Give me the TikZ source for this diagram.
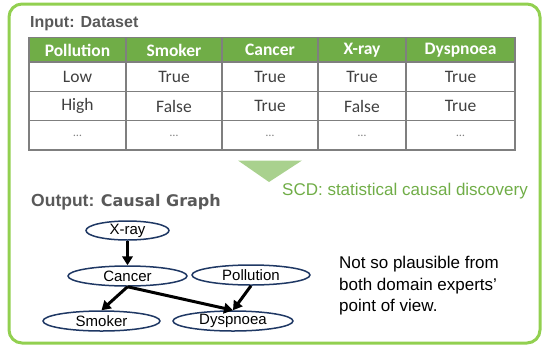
\documentclass[tikz,border=0pt]{standalone}
\usepackage{fontspec}
\setmainfont{Liberation Sans}
\newfontfamily\calibri{Carlito}
\newfontfamily\widesans{DejaVu Sans}
\usetikzlibrary{shapes.geometric,arrows.meta}
\definecolor{outergreen}{HTML}{92D050}
\definecolor{headgreen}{HTML}{70AD47}
\definecolor{trigreen}{HTML}{A9D18E}
\definecolor{scdgreen}{HTML}{70AD47}
\definecolor{gridgray}{HTML}{7F7F7F}
\definecolor{titlegray}{HTML}{595959}
\definecolor{cellgray}{HTML}{404040}
\definecolor{navy}{HTML}{1F3864}
\tikzset{
  frame/.style={draw=outergreen, line width=3pt, rounded corners=13pt},
  title/.style={anchor=base west, inner sep=0pt, text=titlegray, font=\bfseries\fontsize{16}{18}\selectfont},
  headcell/.style={inner sep=0pt, text=white, font=\calibri\bfseries\fontsize{17.5}{20}\selectfont},
  bodycell/.style={inner sep=0pt, text=cellgray, font=\calibri\fontsize{17.5}{20}\selectfont},
  dotcell/.style={inner sep=0pt, text=gridgray, font=\calibri\fontsize{12}{14}\selectfont},
  grid/.style={draw=gridgray, line width=1.3pt},
  var/.style={ellipse, draw=navy, line width=1.5pt, inner sep=0pt, minimum height=20pt, font=\fontsize{15}{17}\selectfont},
  causal/.style={line width=3pt, -{Triangle[length=9pt,width=10.5pt]}},
}
\begin{document}
\begin{tikzpicture}[x=1pt,y=-1pt]
\useasboundingbox (0,0) rectangle (544,349);
\draw[frame] (9,4) rectangle (540,343);

\node[title] (intitle) at (30,27) {Input: Dataset};

% table
\fill[headgreen] (29,37.5) rectangle (515,62);
\foreach \y in {62,91.5,120.5} \draw[grid] (29,\y) -- (515,\y);
\foreach \x in {126,222,318,406} \draw[grid] (\x,37.5) -- (\x,150);
\draw[grid] (29,37.5) rectangle (515,150);

\node[headcell] (h1) at (77.5,50) {Pollution};
\node[headcell] (h2) at (174,50) {Smoker};
\node[headcell] (h3) at (270,50) {Cancer};
\node[headcell] (h4) at (362,50) {X-ray};
\node[headcell] (h5) at (460.5,50) {Dyspnoea};

\node[bodycell] (a1) at (77.5,77) {Low};
\node[bodycell] (a2) at (174,77) {True};
\node[bodycell] (a3) at (270,77) {True};
\node[bodycell] (a4) at (362,77) {True};
\node[bodycell] (a5) at (460.5,77) {True};

\node[bodycell] (b1) at (77.5,106) {High};
\node[bodycell] (b2) at (174,106) {False};
\node[bodycell] (b3) at (270,106) {True};
\node[bodycell] (b4) at (362,106) {False};
\node[bodycell] (b5) at (460.5,106) {True};

\node[dotcell] (c1) at (77.5,135.5) {…};
\node[dotcell] (c2) at (174,135.5) {…};
\node[dotcell] (c3) at (270,135.5) {…};
\node[dotcell] (c4) at (362,135.5) {…};
\node[dotcell] (c5) at (460.5,135.5) {…};

% arrow triangle
\fill[trigreen] (238,160.5) -- (302,160.5) -- (269,182) -- cycle;
\node[anchor=base west, inner sep=0pt, text=scdgreen, font=\fontsize{17}{19}\selectfont] (scd) at (282,195) {SCD: statistical causal discovery};

\node[title, font=\bfseries\fontsize{17.5}{19}\selectfont] (outtitle) at (31,206.5) {Output: {\widesans\bfseries\fontsize{16}{18}\selectfont Causal Graph}};

% causal graph
\node[var, minimum width=83pt, minimum height=18pt] (xray) at (127.5,230.5) {X-ray};
\node[var, minimum width=119pt] (cancer) at (127.5,276) {Cancer};
\node[var, minimum width=118pt] (poll) at (251,275) {Pollution};
\node[var, minimum width=117pt] (smoker) at (101.5,321) {Smoker};
\node[var, minimum width=120pt] (dysp) at (233,321) {Dyspnoea};

\draw[causal] (xray.south) -- (cancer.north);
\draw[causal] (cancer.south) -- (smoker.north);
\draw[causal] (cancer.south) -- (dysp.north);
\draw[causal] (poll.south) -- (dysp.north);

\node[anchor=north west, inner sep=0pt, align=left, font=\fontsize{17}{21.5}\selectfont] (note) at (339,256)
  {Not so plausible from\\both domain experts'\\point of view.};
\end{tikzpicture}
\end{document}
